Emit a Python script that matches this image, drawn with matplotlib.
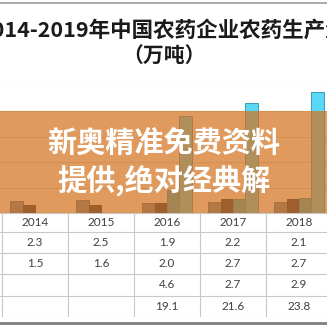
import numpy as np
import matplotlib.pyplot as plt
from matplotlib.patches import Rectangle

plt.rcParams['font.family'] = ['Noto Sans CJK SC', 'DejaVu Sans']

# production by year, four product groups (万吨)
years = ['2014', '2015', '2016', '2017', '2018']
s1 = [2.3, 2.5, 1.9, 2.2, 2.1]
s2 = [1.5, 1.6, 2.0, 2.7, 2.7]
s3 = [np.nan, np.nan, 4.6, 2.7, 2.9]
s4 = [np.nan, np.nan, 19.1, 21.6, 23.8]
series = [s1, s2, s3, s4]
colors = ['#6285AA', '#1A2C51', '#2AB8E0', '#5AD8F5']
edges = ['#4A6A8A', '#14223F', '#2090B0', '#3B9AB8']

W = H = 327.0
fig = plt.figure(figsize=(3.27, 3.27), dpi=100)

# column width of one year, in pixels
colw = 66.0
x0 = -0.5 - 2.0 / colw
x1 = x0 + W / colw

def px_box(top, bottom):
    return [0, 1 - bottom / H, 1, (bottom - top) / H]

# bar chart
ax = fig.add_axes(px_box(85.5, 213))
x = np.arange(len(years))
w = 0.187
for i, (vals, c, e) in enumerate(zip(series, colors, edges)):
    ax.bar(x + (i - 1.5) * w, vals, w, color=c, edgecolor=e, linewidth=0.7, zorder=3)
ax.set_xlim(x0, x1)
ax.set_ylim(0, 25)
ax.set_yticks(np.arange(0, 26, 5))
ax.grid(axis='y', color='#d9d9d9', linewidth=0.8, zorder=0)
ax.tick_params(left=False, bottom=False, labelleft=False, labelbottom=False)
for s in ax.spines.values():
    s.set_visible(False)

# data table under the bars
tab = fig.add_axes(px_box(213, 317))
tab.set_xlim(x0, x1)
tab.set_ylim(104, 0)
tab.axis('off')
rows = [0, 19, 40, 61, 83, 104]
for r in rows:
    tab.axhline(r, color='#c8c8c8', linewidth=0.8)
for v in np.arange(-0.5, 5, 1.0):
    tab.vlines(v, 0, 104, color='#c8c8c8', linewidth=0.8)
mids = [(a + b) / 2 for a, b in zip(rows[:-1], rows[1:])]
for j, yr in enumerate(years):
    tab.text(j, mids[0], yr, ha='center', va='center', fontsize=8.5,
             family='Lato', color='#404040')
    for i, vals in enumerate(series):
        if not np.isnan(vals[j]):
            tab.text(j, mids[i + 1], f'{vals[j]:.1f}', ha='center', va='center',
                     fontsize=8.5, family='Lato', color='#404040')

# title
fig.text(0.5, 1 - 30 / H, '2014-2019年中国农药企业农药生产量', ha='center', va='center',
         fontsize=15.5, fontweight='bold', color='#1a1a1a')
fig.text(0.5, 1 - 56 / H, '（万吨）', ha='center', va='center',
         fontsize=15, fontweight='bold', color='#1a1a1a')

# frame lines
fig.add_artist(plt.Line2D([0, 1], [1 - 3.2 / H] * 2, color='#999999', linewidth=1.2))
fig.add_artist(plt.Line2D([0, 1], [1 - 322.5 / H] * 2, color='#7f7f7f', linewidth=2))

# orange banner across the chart
fig.add_artist(Rectangle((0, 1 - 213 / H), 1, (213 - 111) / H, transform=fig.transFigure,
                         facecolor='#D4731F', alpha=0.72, edgecolor='none', zorder=5))
fig.text(0.5, 1 - 144 / H, '新奥精准免费资料', ha='center', va='center',
         fontsize=21, fontweight='bold', color='white', zorder=6)
fig.text(0.5, 1 - 181 / H, '提供,绝对经典解', ha='center', va='center',
         fontsize=21, fontweight='bold', color='white', zorder=6)

fig.savefig('out.png', dpi=100)
